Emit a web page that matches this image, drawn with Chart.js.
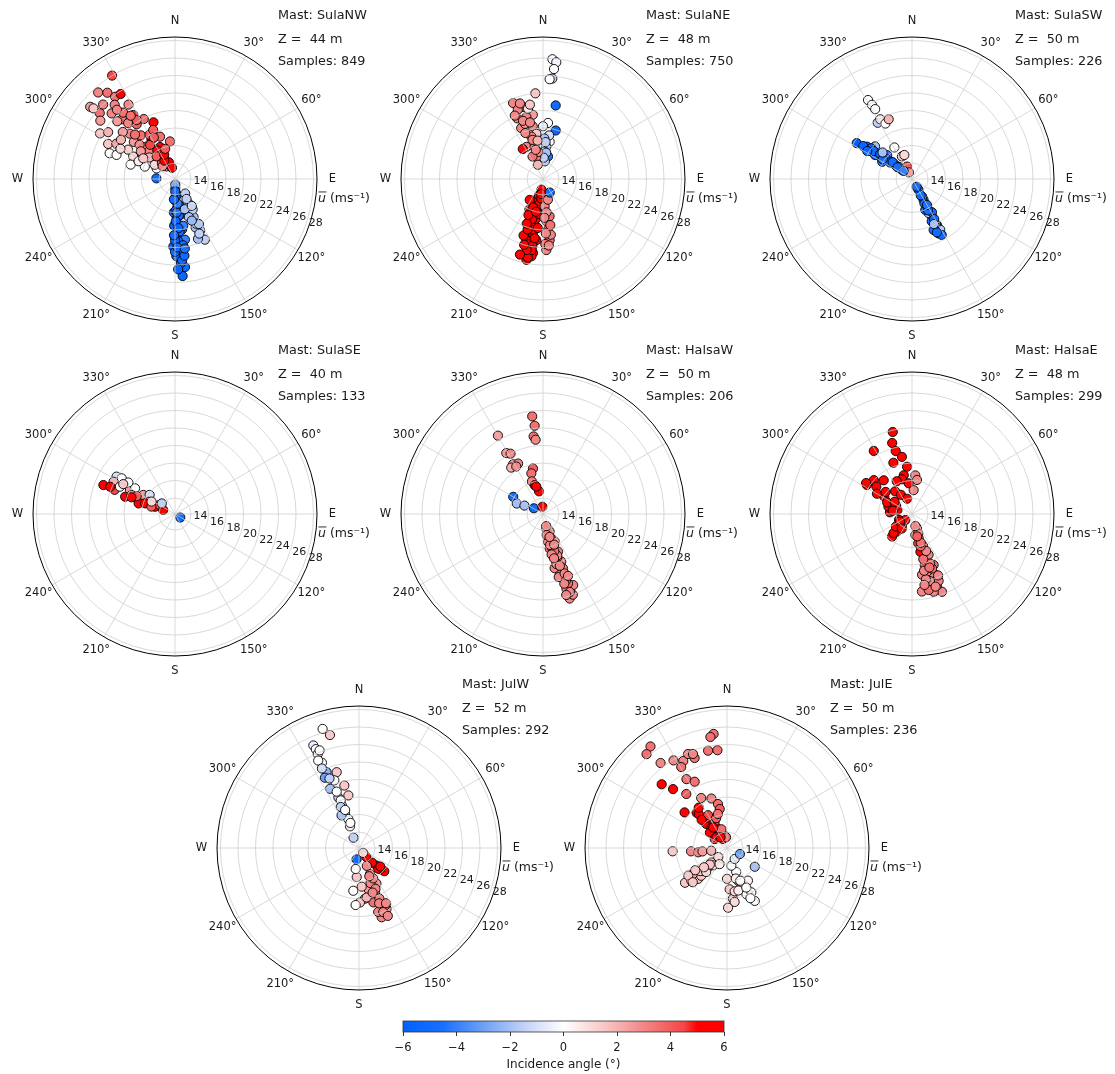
<!DOCTYPE html>
<html>
<head>
<meta charset="utf-8">
<script src="https://cdn.jsdelivr.net/npm/chart.js@4"></script>
<style>
  html, body { margin: 0; padding: 0; background: #fff; overflow: hidden; }
  #wrap { position: relative; width: 1115px; height: 1074px; }
  canvas { position: absolute; }
</style>
</head>
<body>
<div id="wrap"></div>
<script>
// radial axis (mean wind speed) and compass ticks
const RADIAL_TICKS = [14, 16, 18, 20, 22, 24, 26, 28];
const ANGLE_TICKS = [0, 30, 60, 90, 120, 150, 180, 210, 240, 270, 300, 330];
const R_MIN = 12.17, R_MAX = 28.4;
const CBAR_TICKS = [-6, -4, -2, 0, 2, 4, 6];

const masts = ['SulaNW', 'SulaNE', 'SulaSW', 'SulaSE', 'HalsaW', 'HalsaE', 'JulW', 'JulE'];
const heights = [44, 48, 50, 40, 50, 48, 52, 50];
const samples = [849, 750, 226, 133, 206, 299, 292, 236];

// [direction deg, mean speed m/s, incidence angle deg]
const sulaNW = [
  [328.7,26.0,4.5],[318.4,25.4,3],[321.9,24.7,3.5],[323.9,23.8,3.5],[327.4,23.7,6],[310.4,24.9,2.5],[311.2,23.6,3.5],
  [310.9,24.5,1.5],[316,22.6,3],[320.9,23.1,3],[318.4,21.3,3.5],[326.9,20.9,4.5],[332.5,19.9,3.5],[339.2,19.1,6],
  [301.3,22.2,1.5],[297.7,20.8,1.5],[301,20,2.5],[291.5,20.2,0],[292.4,19.4,0],[340.5,17.3,3.5],[352.4,16.5,3.5],
  [329,17.4,5],[318.8,17.1,3.5],[332.4,15,6],[324.5,15.8,4],[296.4,17,2],[298.2,17.6,1],[292.4,15.9,0],[300,14.6,0],
  [326,13.9,3],[320,20.5,3],[315,19.5,3],[322,18.5,3.5],[325,19.8,4],[330,18,4],[312,18.5,2.5],[318,16.5,3],
  [335,16.2,5],[340,14.2,5],[345,13.5,6],[310,16,2],[305,15,1],[320,14.5,3.5],[328,22.2,3],[315,21.5,2.5],
  [305,21.5,2],[322,21.8,3.5],[336,18.3,4],[302,18.5,1.2],[288,17.5,0],[296,16.8,0.5],[272,14.3,-5],
  [318,19,3.5],[324,17,4.5],[328,16,5],[314,17.8,3],[309,17.2,2.5],[327,20.2,4],[333,17.5,4],[321,15.5,4],
  [316,14.2,3],[330,14.6,5],[312,20.2,2.5],[306,19.8,2],[320,22.5,3],[316,24,3],[308,23,2.5],[325,21,3.5],
  [336,15.2,5.5],[342,15.8,4],[303,16.5,1.5],[299,19.3,1],
  [175.5,23.3,-5.5],[173.5,22.3,-5],[176.2,20.9,-5],[181.4,19.9,-5.5],[170.7,19.2,-4],[177.5,16.5,-5],[180,14.6,-5.5],
  [178,18.5,-5],[174,17.5,-5],[172,18,-4.5],[179,21.0,-5],[176,15.5,-5],[173,14,-4.5],[181,17.5,-5.5],[171,16.3,-4],
  [178,13.2,-5],[175,19.8,-4.5],[182,16,-5],[177,12.8,-3],[180,18.8,-5],[176,20.2,-5.5],[179,15.8,-5],[174,16.4,-5],
  [176,21.8,-5],[178,22.5,-5.5],[174,20.5,-5],[177,19.3,-5],[179,17,-5.5],[175,18.2,-5],[173,19.8,-4.5],[180,20.5,-5],
  [176,13.8,-5],[178,14.2,-5.5],[172,15.2,-4.5],[177,16,-5],[175,21.5,-5],[173,21,-5],[180,19.2,-5.5],[174,15,-4],
  [170,17.6,-4],[178,20,-5],[176,17.8,-5.5],[181,18.6,-5],[172,20.2,-4.5],[183,14.5,-5],[179,13.6,-5],
  [153.8,19.9,-1.5],[153.9,18.7,-1.5],[154,17,-2],[151.3,15.3,-1],[145,14.2,-1.5],[157,18.2,-2],[150,16.2,-1.5],
  [159,19.5,-2],[155,17.8,-1.2],[160,16.8,-1.8],[156,19,-1.5],[152,18,-1.8],[158,17.3,-2.2],[150,14.8,-1.5],
  [162,15.8,-2],[148,15.8,-1.2]
];
const sulaNE = [
  [4.5,25.9,0],[6.5,25.6,-0.3],[5.7,24.8,0],[5.3,23.7,-1.5],[3.8,23.6,0],[9.8,20.7,-5],[14.7,17.9,-5.5],
  [5.1,18.6,0],[0,18.2,-0.5],[10.1,16.5,0],[5.9,15.9,-2],[12.6,14.8,-4.5],[3.5,15.3,-1.5],[8,17.2,-1],[2,16.8,-2],[6,14.2,-1.5],
  [4,16.4,-1.5],[7,15.2,-2],[2,14.6,-1.5],
  [338.5,21.5,3],[354.9,22,1.5],[344.5,20.7,3],[351,19.6,2.5],[340,20.6,3],[345,19.5,3],[349,18.3,3],[336.8,18.5,3],
  [351.7,17.4,1.5],[344.6,17.2,3],[332.7,16.3,3],[326,16.3,6],[345.5,16,3.5],[343,14.8,3],[340,13.9,2],[345,16.8,3],
  [342,18.8,2.5],[348,20.4,0.5],[337,19.7,3],[350,15.3,3],[335,15,3.5],
  [341,19.2,3],[347,18.8,3],[339,17.8,3],[346,15.6,3],[352,16.6,2],[350,20.8,1.5],[336,20.1,3],[343,21.2,3],
  [191.6,21.6,6],[187.7,20.7,6],[191.1,20.1,6],[195.4,18.6,5.5],[190.4,18.5,6],[188,17.7,6],[198,17.1,6],[196.2,16.3,6],
  [193.5,15.4,6],[189,14.6,6],[201.6,14.8,6],[188,13.4,6],[212.4,15,5],[195.3,19.4,6],[186.2,19.2,5.5],[188.5,21.1,6],
  [192,19.8,6],[194,17.6,6],[190,16.8,6],[197,15.8,6],[185,15.6,5.5],[199,19.0,6],[193,21.0,6],[204,16.0,5.5],
  [189,19.9,6],[192,18.1,6],[195,16.9,6],[187,16.2,6],[190,15.2,6],[194,14.1,6],[197,18.2,6],[200,17.6,6],
  [186,17.8,6],[191,21.3,6],[189,20.4,5.5],[193,20.5,6],[196,20.0,6],[188,19.0,6],[202,16.6,5.5],[185,14.4,6],
  [199,15.6,6],[192,16.0,6],[187,13.9,6],[197,21.2,6],
  [177.3,20.3,3],[173.8,19.2,3.5],[174.4,18,3.5],[175.4,17,3],[176.6,15.3,3],[166.6,14.6,3],[170,16.5,3.5],[172,18.6,3],
  [178,19.6,3.5],[175,19.8,3],[177,18.4,3],[171,17.5,3.5],[174,16,3],[178,16.6,3],[153.4,13.9,-5]
];
const sulaSW = [
  [330.9,22.5,0],[331.6,21.8,0],[332.2,21.2,0],[328.6,19.7,-1.5],[332,19.9,0.5],[334.4,19.2,0],[338.7,19.5,2],
  [330.8,16.3,0],[335.9,15,1.5],[342.3,15.05,1],[338,13.7,4],[335,13,2.5],
  [303,19.7,-6],[305.7,18.5,-5],[311.4,17.8,-2],[304.3,17.7,-5],[305.2,16.6,-5.5],[309.2,15.6,-5],[310,14.7,-5],
  [312,13.7,-5.5],[300,16.1,-4],[306.3,17.1,-5.5],[313.8,16.1,-4],[313,14.2,-3],[307,18.0,-5],[308,16.0,-5],[303,17.2,-5.5],
  [304,18.9,-5.5],[306,17.6,-5],[308,16.8,-5.5],[307,15.3,-5],[311,15.1,-5],[309,14.3,-5],[304,16.2,-5],[302,18.2,-5.5],
  [312,16.7,-2],[314,13.5,-4],
  [153.9,19.1,-6],[151.5,18.2,-1.5],[152,17,-5],[151.5,15.8,-5],[151,14.9,-4],[148.8,13.6,-5],[157,18.5,-4.5],
  [154,16.5,-1.5],[150,14.5,-2.5],[150.9,18.8,-1.5],[156.7,16,-4.5],[155,17.5,-5],[153,15.3,-4.5],[149,16.6,-5],[152,19.4,-5],
  [152,18,-5],[155,18.9,-5],[151,17.4,-5],[153,16.2,-5],[150,15.6,-4.5],[152,14.3,-5],[149,13.2,-5],[154,17.9,-2]
];
const sulaSE = [
  [292,21,5],[302.6,20.1,-1],[303.8,19.5,0],[297.7,20.1,2],[291.8,19.6,4.5],[289.1,18.2,5],[298,18,2.5],[302.7,17.6,0],
  [292.2,16.9,5],[301,16.4,2.5],[307,15.8,-1],[294.8,15.5,5.5],[290,14.6,5],[301,14.2,4],[289,13.6,5],[286.2,16.5,6],
  [289.6,15.8,6],[287.4,15,4],[308.7,14.1,-1.5],[123.7,12.9,-5],[293.7,17.6,3],[296.4,19.2,0],[292.8,20.2,5.5],
  [295,17.0,4],[298,15.2,1],[291,17.5,5],[304,18.6,0],[300,19.0,1.5]
];
const halsaW = [
  [353.7,23.4,3.5],[354.6,22.3,3.5],[353.1,21.1,3.5],[354.3,20.7,3],[347.6,17.5,4],[344,17,3.5],[341.2,16.1,3],
  [344,15.6,5],[350,14.8,6],[346.3,15.4,5.5],
  [330.1,22.5,2.5],[328.9,20.3,2.5],[331.7,20,3],[328.9,18.8,2.5],[333.7,18.6,3],[325.6,18.6,2],[330.6,18.4,3],
  [300,16.1,-5],[291.8,15.4,-2],[294.4,14.5,-2],[302,13.4,-5],[355,13,5],
  [162.5,22.3,3],[159.7,22,3],[157,21,3],[162.6,21.1,3],[162.7,19.9,3],[163,18.7,3.5],[164.4,17.8,3],[159,18,3],
  [166.3,17,3],[169,16.2,3.5],[158.3,16.8,3],[161,15.1,3.5],[167,13.9,3],[159.3,14.3,3],[157,15.6,2.5],[159.8,18.8,3],
  [160.2,20.6,3.5],[167.9,18.5,3],[169.8,15.4,3],[164.7,19.4,3],[165,16.4,3],[162,17.4,3.5],[166,19.6,3],[160,19.4,3],[170,14.6,3],
  [161,20.2,3],[163,20.5,3],[165,18.1,3],[161,17.2,3],[163,16.6,3.5],[167,15.8,3],[160,15.9,3],[164,14.9,3],
  [168,16.9,3],[158,19.8,3],[161,21.6,3],[166,17.4,3],[162,18.4,3],[164,21.8,3],[165,13.6,3]
];
const halsaE = [
  [346.8,21.8,6],[344.4,20.6,5.5],[345.5,19.6,6],[328.8,20.6,5],[354,17.6,5.5],[348,16.7,6],[344,16.3,6],[353.8,15.7,5.5],
  [4.9,16.6,3],[8.4,16.1,3],[4,14.9,3],[323.3,15.4,6],[330,14.7,6],[342.3,14,6],
  [302.8,18.3,6],[311.6,18,6],[307.5,17.3,6],[302,15.9,5],[274.3,14.7,6],[285,13.9,6],[287.4,15,6],[304,18.5,6],[297,14.2,6],
  [300,16.8,6],[295,15.3,6],[310,16.1,6],[320,17.2,6],[335,16.3,6],[340,18.4,6],[350,18.8,5.5],[280,14.4,6],[305,14.6,5],
  [221.4,15.6,6],[220.3,14.8,6],[222,13.9,6],[245.8,13.8,6],[228,13.2,5],[224,15.2,6],[232,14.5,6],[238,13.8,6],[215,14.2,6],
  [158.9,21.7,3],[164.4,21.4,3],[172.7,21.1,3],[167.6,21.06,3.5],[160.6,20.8,3],[159,19.6,3],[163.3,19.4,3],[170.6,19.2,3],
  [157,18.5,3.5],[162.5,17.9,4],[164.1,17,3.5],[157.9,17.2,3],[163.8,16.3,4],[164.7,15.05,3],[160.8,13.9,2.5],[171,14.6,3],
  [167.5,16.6,5],[165.4,19,3.5],[158.3,20.4,3],[159.8,18.8,3.5],[166,18.2,4],[161,16.0,3.5],[168,15.6,4.5],[162,14.5,3],
  [165,20.1,3],[162,20.9,3],[168,19.8,3],[160,18.2,3.5],[166,17.5,3.5],[159,16.7,3],[165,16.0,4],[163,15.6,3.5],
  [168,18.8,3],[170,20.4,3],[157,19.8,3],[162,18.6,3.5],[167,14.8,4],[164,13.6,3]
];
const julW = [
  [343,26.4,0],[345.6,25.5,1.5],[336,25,-0.5],[336.4,24.5,0],[336.3,23.9,0.3],[336.5,22.8,0],[336.9,21.6,-2.5],
  [343.6,21.2,1.5],[334.1,21.1,-3],[334,19.7,-2],[337.8,18.4,-1.5],[346.8,19.5,1.5],[348.6,18.3,1.5],[338.4,19.1,0],
  [337.6,16.4,-2],[339.8,15.7,0],[337.4,14.85,0.3],[332,13.5,-1.5],[331.8,16.4,-2],[335,23.2,0],[340,20.4,0],[338,17.4,-1],[341,15.2,0],
  [337,20.8,-1.5],[335,22.2,-1],[339,18.0,0],[336,17.3,-1.5],[340,16.8,0],[338,24.2,0],
  [132.6,16.1,6],[135,15,6],[138.5,14.4,5.5],[135,15.6,6],[140.6,13.5,5],[140,12.9,1],[137,15.4,5.5],[131,15.4,6],
  [161.9,20.5,3],[155.6,19.8,3],[163.3,19.8,3],[160.2,17.6,3],[153.9,16.7,3],[165.2,18.6,3.5],[157,15.4,3],[156.5,14.4,3],
  [167.2,17,2.5],[173.3,18,2],[179,18.4,1.5],[183.4,18.7,0],[187.6,17.1,0],[184.5,15.5,1.5],[189,14.6,0],[192,13.5,-5],
  [171.2,17.9,2],[155.7,19.4,3.5],[159.3,20,3],[162,16.4,3],[176,16.6,1.5],[158,18.4,3],
  [160,18.9,3],[158,17.2,3],[163,17.5,3],[155,16,3],[160,15.6,3],[157,20.6,3],[154,19.2,3]
];
const julE = [
  [353.3,25.3,3.5],[351.5,25,3.5],[349,23.5,3.5],[354.4,23.4,3.5],[323,26.7,3.5],[319.4,26.3,3.5],[322,24.5,3],
  [328.6,23.9,3],[333.3,23.3,3],[337.5,23.8,3],[340.2,23.1,3.5],[340.1,23.6,3],[330.5,22.8,3.5],[314.3,22.6,5],
  [317.5,21.3,5],[329.5,21.3,3.5],[334,20.6,3.5],[323,19.9,4],[332.7,18.6,3],[342.5,18.1,3],[348.4,17.3,3.5],
  [349.4,16.7,4],[310,18.5,5],[319.3,17.5,5.5],[320.2,17.2,5],[319.3,15.8,6],[322.8,15.1,5.5],[312,14.8,5],
  [323.9,13.9,5],[306,13.9,4.5],[336,13.3,4],[349,13.6,4],[355,13.4,3.5],[332.7,14.8,5],[343.4,14.4,3.5],[327,16.3,5],[335,15.5,4.5],
  [325,17.8,5],[330,16.5,4.5],[318,16.5,5.5],[326,15,5.5],[340,15.8,4],[345,16.2,3.5],[315,13.9,5],[329,13.6,5],
  [266.5,18.4,1.5],[264.7,16.3,3],[261.5,15.5,3],[262,15,2.5],[260.3,14,2],
  [230.4,18.4,1.5],[227.5,17.7,1.5],[223.1,17,1.5],[222.9,16.5,1.5],[224.5,15.3,1.5],[227.5,14.6,1.5],[224,13.6,1],
  [232.6,17.1,2],[226.6,16,1.5],[218.4,14.7,1],[234.6,17.6,1.5],[204.6,14.2,0.5],[229,16.2,1.5],[221,15.8,1],
  [226,14.9,1.5],[230,15.6,1.5],[235,16.6,1.5],[225,17.7,1.5],
  [180,15.7,1],[176.3,16.9,1.5],[173.3,18,1.5],[172,18.4,1],[157.2,17.9,0],[152.3,19,0],[151.2,17.95,0],[159.2,16.8,0.5],
  [159,15.1,0],[166.2,14.25,0],[145,13.7,-0.5],[124,16,-2],[115,13.8,-3],[147.3,16.6,0.3],[179,19,1],[161.4,16.1,1.5],
  [155,18.5,0],[170,17.2,1],[164,15.8,0.5],[165,17.2,0.5],[158,16.2,0],[154,17.2,0]
];
const panelData = [sulaNW, sulaNE, sulaSW, sulaSE, halsaW, halsaE, julW, julE];

// pixel centres of the eight polar axes
const centers = [[175,179],[543,179],[912,179],[175,514],[543,514],[912,514],[359,848],[727,848]];

const FONT = '"DejaVu Sans", sans-serif';
const DEG = Math.PI / 180;
const SPAN = R_MAX - R_MIN;

// blue-white-red incidence colormap
const cmap = [
  [-6, [0, 96, 255]], [-4.5, [25, 112, 255]], [-3, [110, 160, 245]], [-1.5, [192, 208, 248]],
  [0, [255, 255, 255]], [1.5, [250, 200, 200]], [3, [242, 135, 135]], [4.5, [246, 70, 70]],
  [5, [255, 0, 0]], [6, [255, 0, 0]]
];
function colorFor(v) {
  v = Math.max(-6, Math.min(6, v));
  for (let i = 1; i < cmap.length; i++) {
    if (v <= cmap[i][0]) {
      const [a, ca] = cmap[i - 1], [b, cb] = cmap[i];
      const t = (v - a) / (b - a);
      const c = ca.map((x, k) => Math.round(x + (cb[k] - x) * t));
      return `rgb(${c[0]},${c[1]},${c[2]})`;
    }
  }
  return 'rgb(255,0,0)';
}

const polarFrame = {
  id: 'polarFrame',
  afterDatasetsDraw(chart) {
    const { ctx } = chart;
    const xs = chart.scales.x, ys = chart.scales.y;
    const cx = xs.getPixelForValue(0), cy = ys.getPixelForValue(0);
    const rad = v => xs.getPixelForValue(v - R_MIN) - cx;
    const outer = rad(R_MAX);
    ctx.save();
    ctx.strokeStyle = 'rgba(205,205,205,0.95)';
    ctx.lineWidth = 0.8;
    RADIAL_TICKS.forEach(t => {
      ctx.beginPath();
      ctx.arc(cx, cy, rad(t), 0, 2 * Math.PI);
      ctx.stroke();
    });
    ANGLE_TICKS.forEach(a => {
      ctx.beginPath();
      ctx.moveTo(cx, cy);
      ctx.lineTo(cx + outer * Math.sin(a * DEG), cy - outer * Math.cos(a * DEG));
      ctx.stroke();
    });
    ctx.strokeStyle = '#000';
    ctx.lineWidth = 1;
    ctx.beginPath();
    ctx.arc(cx, cy, outer, 0, 2 * Math.PI);
    ctx.stroke();
    ctx.restore();
  },
  afterDraw(chart, args, opts) {
    const { ctx } = chart;
    const xs = chart.scales.x, ys = chart.scales.y;
    const cx = xs.getPixelForValue(0), cy = ys.getPixelForValue(0);
    const rad = v => xs.getPixelForValue(v - R_MIN) - cx;
    ctx.save();
    ctx.fillStyle = '#1a1a1a';
    ctx.textAlign = 'center';
    ctx.textBaseline = 'middle';
    // compass labels
    ctx.font = `11.5px ${FONT}`;
    const names = { 0: 'N', 90: 'E', 180: 'S', 270: 'W' };
    ANGLE_TICKS.forEach(a => {
      const r = rad(R_MAX) + 15.5;
      const txt = names[a] || `${a}°`;
      ctx.fillText(txt, cx + r * Math.sin(a * DEG), cy - r * Math.cos(a * DEG));
    });
    // radial speed labels
    ctx.font = `11px ${FONT}`;
    RADIAL_TICKS.forEach(t => {
      const r = rad(t);
      ctx.fillText(String(t), cx + r * Math.sin(110 * DEG) + 10.5, cy - r * Math.cos(110 * DEG) - 3.7);
    });
    // axis unit label: u-bar (ms^-1)
    ctx.textAlign = 'left';
    ctx.font = `italic 12.5px ${FONT}`;
    const ux = cx + 143, uy = cy + 20;
    ctx.fillText('u', ux, uy);
    const uw = ctx.measureText('u').width;
    ctx.fillRect(ux + 0.5, uy - 7.5, uw, 0.9);
    ctx.font = `12.5px ${FONT}`;
    ctx.fillText(' (ms\u207B\u00B9)', ux + uw, uy);
    // mast annotation
    ctx.font = `12.8px ${FONT}`;
    const tx = cx + 103;
    ctx.fillText(`Mast: ${opts.mast}`, tx, cy - 163);
    ctx.fillText(`Z =  ${opts.z} m`, tx, cy - 139.5);
    ctx.fillText(`Samples: ${opts.n}`, tx, cy - 117);
    ctx.restore();
  }
};

const wrap = document.getElementById('wrap');
function makeCanvas(left, top, w, h) {
  const c = document.createElement('canvas');
  c.width = w; c.height = h;
  c.style.left = left + 'px';
  c.style.top = top + 'px';
  wrap.appendChild(c);
  return c;
}

masts.forEach((mast, i) => {
  const [cx, cy] = centers[i];
  const canvas = makeCanvas(cx - 200, cy - 178, 400, 356);
  const pts = panelData[i].map(p => ({
    x: (p[1] - R_MIN) * Math.sin(p[0] * DEG),
    y: (p[1] - R_MIN) * Math.cos(p[0] * DEG),
    inc: p[2]
  }));
  new Chart(canvas, {
    type: 'scatter',
    data: {
      datasets: [{
        data: pts,
        pointRadius: 4.6,
        pointBackgroundColor: ctx => colorFor(ctx.raw ? ctx.raw.inc : 0),
        pointBorderColor: '#000',
        pointBorderWidth: 0.9
      }]
    },
    options: {
      responsive: false,
      animation: false,
      events: [],
      layout: { padding: { left: 58, right: 58, top: 36, bottom: 36 } },
      scales: {
        x: { type: 'linear', min: -SPAN, max: SPAN, display: false },
        y: { type: 'linear', min: -SPAN, max: SPAN, display: false }
      },
      plugins: {
        legend: { display: false },
        tooltip: { enabled: false },
        polarFrame: { mast: mast, z: heights[i], n: samples[i] }
      }
    },
    plugins: [polarFrame]
  });
});

// colour bar
const cbarFill = {
  id: 'cbarFill',
  beforeDatasetsDraw(chart) {
    const { ctx, chartArea: a } = chart;
    const xs = chart.scales.x;
    const g = ctx.createLinearGradient(a.left, 0, a.right, 0);
    cmap.forEach(([v, c]) => {
      g.addColorStop((xs.getPixelForValue(v) - a.left) / (a.right - a.left), `rgb(${c[0]},${c[1]},${c[2]})`);
    });
    ctx.save();
    ctx.fillStyle = g;
    ctx.fillRect(a.left, a.top, a.right - a.left, a.bottom - a.top);
    ctx.strokeStyle = '#333';
    ctx.lineWidth = 0.8;
    ctx.strokeRect(a.left, a.top, a.right - a.left, a.bottom - a.top);
    ctx.restore();
  }
};
new Chart(makeCanvas(373, 1012, 380, 62), {
  type: 'scatter',
  data: { datasets: [{ data: [] }] },
  options: {
    responsive: false,
    animation: false,
    events: [],
    layout: { padding: { left: 30, right: 29, top: 9, bottom: 0 } },
    scales: {
      x: {
        type: 'linear', min: -6, max: 6,
        afterBuildTicks: s => { s.ticks = CBAR_TICKS.map(v => ({ value: v })); },
        afterFit: s => { s.height = 42; },
        grid: { drawOnChartArea: false, tickLength: 4, color: '#333' },
        border: { display: false },
        ticks: {
          padding: 5, color: '#1a1a1a', font: { family: FONT, size: 11.5 },
          callback: v => v < 0 ? '\u2212' + Math.abs(v) : String(v)
        },
        title: { display: true, text: 'Incidence angle (°)', color: '#1a1a1a', padding: { top: 2, bottom: 2 }, font: { family: FONT, size: 12 } }
      },
      y: { display: false, min: 0, max: 1 }
    },
    plugins: { legend: { display: false }, tooltip: { enabled: false } }
  },
  plugins: [cbarFill]
});
</script>
</body>
</html>
